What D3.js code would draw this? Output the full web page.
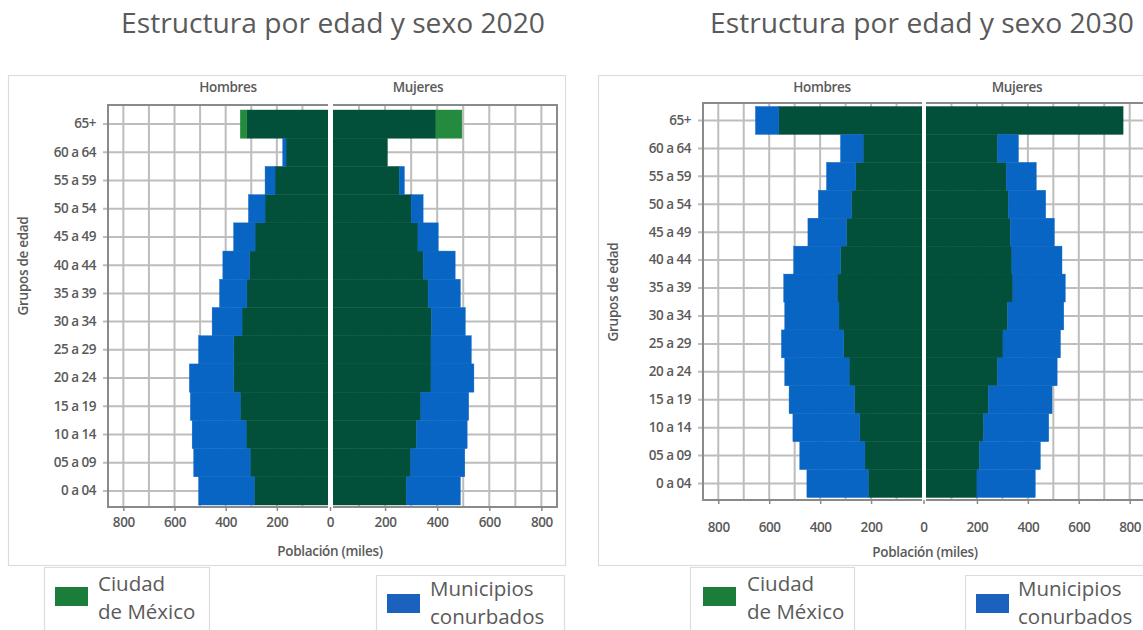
<!DOCTYPE html>
<html>
<head>
<meta charset="utf-8">
<script src="https://cdn.jsdelivr.net/npm/d3@7"></script>
<style>
  html, body { margin: 0; padding: 0; background: #fff; }
  svg { display: block; font-family: "Open Sans", "Noto Sans", sans-serif; }
</style>
</head>
<body>
<svg id="chart" width="1143" height="630"></svg>
<script>
// Age groups, bottom to top
const groups = ["0 a 04", "05 a 09", "10 a 14", "15 a 19", "20 a 24", "25 a 29", "30 a 34",
                "35 a 39", "40 a 44", "45 a 49", "50 a 54", "55 a 59", "60 a 64", "65+"];

// Population in thousands — 2020
const hombresCdmx2020 = [288, 304, 320, 343, 369, 369, 336, 317, 307, 285, 246, 207, 164, 317];
const hombresMuni2020 = [218, 221, 211, 195, 173, 137, 117, 107, 104, 84, 65, 39, 13, 26];
const mujeresCdmx2020 = [281, 298, 320, 337, 376, 376, 378, 365, 346, 326, 300, 255, 209, 395];
const mujeresMuni2020 = [208, 208, 195, 184, 165, 155, 130, 124, 123, 78, 46, 19, 0, 100];

// Population in thousands — 2030
const hombresCdmx2030 = [211, 224, 244, 264, 286, 307, 326, 333, 320, 296, 277, 260, 231, 562];
const hombresMuni2030 = [241, 256, 263, 258, 253, 245, 213, 210, 184, 152, 130, 115, 89, 92];
const mujeresCdmx2030 = [200, 210, 226, 245, 281, 302, 320, 341, 337, 331, 324, 315, 281, 774];
const mujeresMuni2030 = [229, 239, 256, 250, 234, 226, 221, 206, 197, 173, 146, 118, 82, 0];

const xTicks = [0, 200, 400, 600, 800];
const gridValues = [100, 200, 300, 400, 500, 600, 700, 800];
const seriesNames = ["Ciudad de México", "Municipios conurbados"];

const C = {
  cdmx: "#03503a",
  muni: "#0865c4",
  muniAlt: "#238a3e",
  legendGreen: "#1b7d3a",
  legendBlue: "#1a62be",
  grid: "#bdbdbd",
  axis: "#8a8a8a",
  text: "#5a5a5a",
  box: "#dcdcdc"
};

const svg = d3.select("#chart");

const panels = [
  {
    title: "Estructura por edad y sexo 2020",
    hc: hombresCdmx2020, hm: hombresMuni2020, mc: mujeresCdmx2020, mm: mujeresMuni2020,
    box: [8, 75, 557, 490],
    men: [328, 108], women: [333, 557],
    bandY: [110, 505], frameY: [105, 507],
    titleX: 333, hombresX: 228, mujeresX: 418, headY: 92,
    tickY: 527, axisLabelX: 330, axisLabelY: 556, grupos: [23, 266],
    // the 65+ row draws its outer segment in the lighter green
    oldestAlt: true,
    legend: { box1: [44, 567, 165], box2: [376, 575, 188], sw1: [55, 587], sw2: [387, 594],
              t1: 98, t2: 430, base1: 591, base2: 596 }
  },
  {
    title: "Estructura por edad y sexo 2030",
    hc: hombresCdmx2030, hm: hombresMuni2030, mc: mujeresCdmx2030, mm: mujeresMuni2030,
    box: [598, 75, 560, 490],
    men: [922, 703], women: [926, 1145],
    bandY: [106.5, 497.5], frameY: [103, 500],
    titleX: 922, hombresX: 822, mujeresX: 1017, headY: 92,
    tickY: 532, axisLabelX: 925, axisLabelY: 557, grupos: [613, 292],
    oldestAlt: false,
    legend: { box1: [690, 567, 164], box2: [965, 575, 190], sw1: [703, 587], sw2: [976, 594],
              t1: 747, t2: 1018, base1: 591, base2: 596 }
  }
];

panels.forEach(p => {
  const g = svg.append("g");

  // panel frame
  g.append("rect")
    .attr("x", p.box[0] + 0.5).attr("y", p.box[1] + 0.5)
    .attr("width", p.box[2]).attr("height", p.box[3])
    .attr("fill", "none").attr("stroke", C.box).attr("stroke-width", 1.2);

  // title
  svg.append("text")
    .attr("x", p.titleX).attr("y", 33)
    .attr("text-anchor", "middle")
    .attr("font-size", 28.2).attr("fill", C.text)
    .text(p.title);

  const y = d3.scaleBand().domain(groups.slice().reverse()).range(p.bandY).paddingInner(0).paddingOuter(0);
  const xMen = d3.scaleLinear().domain([0, 860]).range(p.men);
  const xWomen = d3.scaleLinear().domain([0, 860]).range(p.women);

  const rows = groups.map((grp, i) => ({ grp, hc: p.hc[i], hm: p.hm[i], mc: p.mc[i], mm: p.mm[i] }));
  const stackMen = d3.stack().keys(["hc", "hm"])(rows);
  const stackWomen = d3.stack().keys(["mc", "mm"])(rows);

  // grid: vertical lines every 100 on each side
  [xMen, xWomen].forEach(x => {
    g.append("g").selectAll("line").data(gridValues).join("line")
      .attr("x1", d => x(d)).attr("x2", d => x(d))
      .attr("y1", p.frameY[0]).attr("y2", p.frameY[1])
      .attr("stroke", C.grid).attr("stroke-width", 2);
  });
  // horizontal grid at each age group, with tick stubs on the left
  g.append("g").selectAll("line").data(groups).join("line")
    .attr("x1", p.men[1] - 5).attr("x2", p.women[1])
    .attr("y1", d => y(d) + y.bandwidth() / 2).attr("y2", d => y(d) + y.bandwidth() / 2)
    .attr("stroke", C.grid).attr("stroke-width", 2);

  // frame lines around the two halves
  g.append("path")
    .attr("d", `M${p.men[0]},${p.frameY[0]}H${p.men[1]}V${p.frameY[1]}H${p.men[0]}`)
    .attr("fill", "none").attr("stroke", C.axis).attr("stroke-width", 2);
  g.append("path")
    .attr("d", `M${p.women[0]},${p.frameY[1]}H${p.women[1]}V${p.frameY[0]}H${p.women[0]}`)
    .attr("fill", "none").attr("stroke", C.axis).attr("stroke-width", 2);

  // bars
  const colorFor = (key, grp) => {
    if (key === "hc" || key === "mc") return C.cdmx;
    if (p.oldestAlt && grp === "65+") return C.muniAlt;
    return C.muni;
  };
  stackMen.forEach(s => {
    g.append("g").selectAll("rect").data(s).join("rect")
      .attr("x", d => xMen(d[1])).attr("width", d => xMen(d[0]) - xMen(d[1]))
      .attr("y", d => y(d.data.grp)).attr("height", y.bandwidth())
      .attr("fill", d => colorFor(s.key, d.data.grp))
      .attr("stroke", d => colorFor(s.key, d.data.grp)).attr("stroke-width", 0.4);
  });
  stackWomen.forEach(s => {
    g.append("g").selectAll("rect").data(s).join("rect")
      .attr("x", d => xWomen(d[0])).attr("width", d => xWomen(d[1]) - xWomen(d[0]))
      .attr("y", d => y(d.data.grp)).attr("height", y.bandwidth())
      .attr("fill", d => colorFor(s.key, d.data.grp))
      .attr("stroke", d => colorFor(s.key, d.data.grp)).attr("stroke-width", 0.4);
  });

  // white divider between the halves
  g.append("rect")
    .attr("x", p.men[0]).attr("y", p.frameY[0] - 2)
    .attr("width", p.women[0] - p.men[0]).attr("height", p.frameY[1] - p.frameY[0] + 3)
    .attr("fill", "#fff");

  // x axes
  const axMen = d3.axisBottom(xMen).tickValues(xTicks.filter(v => v > 0)).tickSize(4).tickPadding(8);
  const axWomen = d3.axisBottom(xWomen).tickValues(xTicks).tickSize(4).tickPadding(8);
  [axMen, axWomen].forEach(ax => {
    const a = g.append("g").attr("transform", `translate(0,${p.frameY[1]})`).call(ax);
    a.select(".domain").remove();
    a.selectAll(".tick line").attr("stroke", C.axis).attr("stroke-width", 1.5);
    a.selectAll(".tick text").attr("font-size", 13.5).attr("font-weight", 600)
      .attr("fill", C.text).attr("font-family", "Open Sans").attr("letter-spacing", "-0.4")
      .attr("y", p.tickY - p.frameY[1]).attr("dy", null);
  });
  g.selectAll(".tick").filter(d => d === 0).attr("transform", `translate(${(p.men[0] + p.women[0]) / 2},0)`);

  // y axis labels
  const ay = g.append("g").attr("transform", `translate(${p.men[1]},0)`)
    .call(d3.axisLeft(y).tickSize(0).tickPadding(12));
  ay.select(".domain").remove();
  ay.selectAll(".tick text").attr("font-size", 13.5).attr("font-weight", 600)
    .attr("fill", C.text).attr("font-family", "Open Sans").attr("letter-spacing", "-0.5");

  // headings and axis titles
  g.append("text").attr("x", p.hombresX).attr("y", p.headY).attr("text-anchor", "middle")
    .attr("font-size", 13.5).attr("font-weight", 600).attr("letter-spacing", "-0.3")
    .attr("fill", C.text).text("Hombres");
  g.append("text").attr("x", p.mujeresX).attr("y", p.headY).attr("text-anchor", "middle")
    .attr("font-size", 13.5).attr("font-weight", 600).attr("letter-spacing", "-0.3")
    .attr("fill", C.text).text("Mujeres");
  g.append("text").attr("x", p.axisLabelX).attr("y", p.axisLabelY).attr("text-anchor", "middle")
    .attr("font-size", 13.5).attr("font-weight", 600).attr("letter-spacing", "-0.3")
    .attr("fill", C.text).text("Población (miles)");
  g.append("text")
    .attr("transform", `translate(${p.grupos[0]},${p.grupos[1]}) rotate(-90)`)
    .attr("text-anchor", "middle").attr("dy", "0.35em")
    .attr("font-size", 13.5).attr("font-weight", 600).attr("letter-spacing", "-0.3")
    .attr("fill", C.text).text("Grupos de edad");

  // legend
  const L = p.legend;
  [[L.box1, L.sw1, L.t1, C.legendGreen, ["Ciudad", "de México"], L.base1],
   [L.box2, L.sw2, L.t2, C.legendBlue, ["Municipios", "conurbados"], L.base2]].forEach(([b, sw, tx, col, lines, base], k) => {
    g.append("path")
      .attr("d", `M${b[0] + 0.5},640V${b[1] + 0.5}H${b[0] + b[2] + 0.5}V640`)
      .attr("fill", "none").attr("stroke", C.box).attr("stroke-width", 1.2);
    g.append("rect").attr("x", sw[0]).attr("y", sw[1]).attr("width", 33).attr("height", 19)
      .attr("fill", col);
    const t = g.append("text").attr("x", tx).attr("font-size", 20.5).attr("fill", C.text)
      .attr("aria-label", seriesNames[k]);
    t.selectAll("tspan").data(lines).join("tspan")
      .attr("x", tx).attr("y", (d, i) => base + i * 28)
      .text(d => d);
  });
});
</script>
</body>
</html>
